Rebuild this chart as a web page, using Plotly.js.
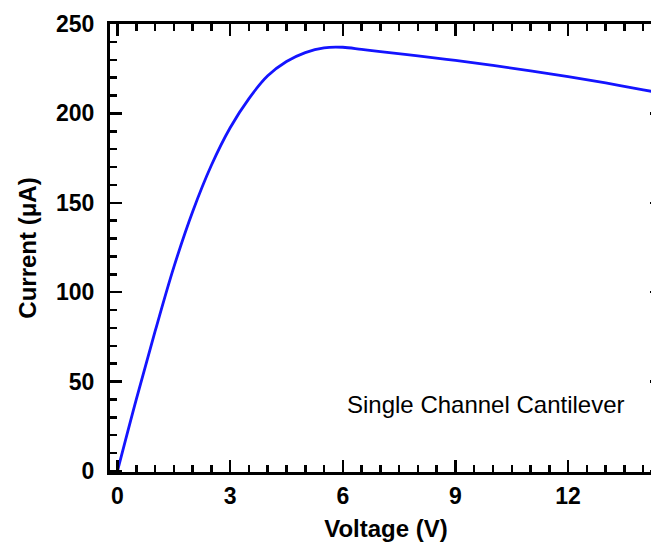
<!DOCTYPE html>
<html>
<head>
<meta charset="utf-8">
<script src="https://cdn.plot.ly/plotly-3.0.1.min.js"></script>
<style>
html,body{margin:0;padding:0;overflow:hidden;background:#fff;width:651px;height:548px;}
#chart{width:700px;height:548px;}
</style>
</head>
<body>
<div id="chart"></div>
<script>
const voltage = [0, 0.5, 1.0, 1.5, 2.0, 2.5, 3.0, 3.5, 4.0, 4.5, 5.0, 5.5, 6.0, 6.5, 7.0, 8.0, 9.0, 10.0, 11.0, 12.0, 13.0, 14.0, 14.5];
const current = [0, 40, 78, 114, 145, 171, 192, 208.3, 221, 229, 234, 236.7, 237, 235.8, 234.6, 232.2, 229.6, 226.8, 223.8, 220.5, 217, 213.2, 211.2];
const xTicks = [0, 3, 6, 9, 12];
const yTicks = [0, 50, 100, 150, 200, 250];
const labelText = "Single Channel Cantilever";

const font = "Liberation Sans, Arial, sans-serif";
const trace = {
  x: voltage, y: current, mode: 'lines', type: 'scatter',
  line: {color: 'rgb(20,20,255)', width: 2.8, shape: 'spline', smoothing: 1},
  hoverinfo: 'skip', showlegend: false
};
const axisCommon = {
  showline: true, linecolor: '#000', linewidth: 3, mirror: 'allticks',
  ticks: 'inside', ticklen: 12, tickwidth: 2.5, tickcolor: '#000',
  showgrid: false, zeroline: false,
  tickfont: {family: font, size: 23, color: '#000', weight: 'bold'}
};
const layout = {
  width: 700, height: 548,
  margin: {l: 110, r: 38, t: 24, b: 76},
  paper_bgcolor: '#fff', plot_bgcolor: '#fff',
  xaxis: Object.assign({}, axisCommon, {
    range: [-0.2, 14.5], tickmode: 'array', tickvals: xTicks, ticktext: xTicks.map(String),
    minor: {dtick: 0.5, tick0: 0, ticks: 'inside', ticklen: 7, tickwidth: 2.5, tickcolor: '#000', showgrid: false},
    ticklabelstandoff: 1,
    title: {text: 'Voltage (V)', font: {family: font, size: 24, color: '#000', weight: 'bold'}, standoff: 13}
  }),
  yaxis: Object.assign({}, axisCommon, {
    range: [-0.6, 250], tickmode: 'array', tickvals: yTicks, ticktext: yTicks.map(String),
    minor: {dtick: 10, tick0: 0, ticks: 'inside', ticklen: 7, tickwidth: 2.5, tickcolor: '#000', showgrid: false},
    ticklabelstandoff: 8,
    title: {text: 'Current (μA)', font: {family: font, size: 24, color: '#000', weight: 'bold'}, standoff: 13}
  }),
  annotations: [{
    x: 6.05, y: 37, xref: 'x', yref: 'y', xanchor: 'left', yanchor: 'middle',
    text: labelText, showarrow: false,
    font: {family: font, size: 24, color: '#000'}
  }]
};
Plotly.newPlot('chart', [trace], layout, {displayModeBar: false, staticPlot: true});
</script>
</body>
</html>
